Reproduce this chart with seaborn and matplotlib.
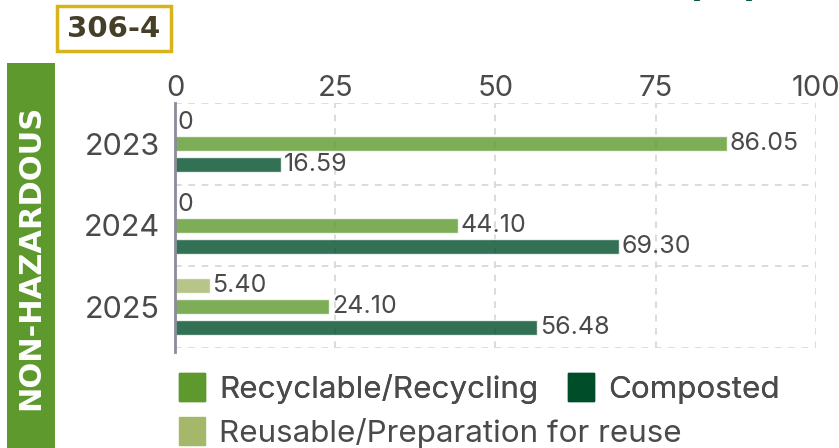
import matplotlib
matplotlib.use("Agg")
import matplotlib.pyplot as plt
from matplotlib.patches import Patch, Rectangle
import pandas as pd
import seaborn as sns

# ---- data -------------------------------------------------------------
years = ["2023", "2024", "2025"]
categories = ["Reusable/Preparation for reuse", "Recyclable/Recycling", "Composted"]
reuse = [0, 0, 5.40]
recycling = [86.05, 44.10, 24.10]
composted = [16.59, 69.30, 56.48]
x_ticks = [0, 25, 50, 75, 100]

colors = {
    "Reusable/Preparation for reuse": "#a5b86a",
    "Recyclable/Recycling": "#5e992d",
    "Composted": "#004d2a",
}

df = pd.DataFrame({
    "year": years * 3,
    "category": [c for c in categories for _ in years],
    "value": reuse + recycling + composted,
})

# ---- style ------------------------------------------------------------
sns.set_style("white")
plt.rcParams["font.family"] = ["Inter", "DejaVu Sans"]
TEXT = "#4a4a4a"

W, H = 839, 448
fig = plt.figure(figsize=(W / 100, H / 100), dpi=100)


def fx(px):
    return px / W


def fy(py):
    return 1 - py / H


ax = fig.add_axes([fx(175), fy(347.5), fx(816) - fx(175), fy(103) - fy(347.5)])

sns.barplot(
    data=df, y="year", x="value", hue="category",
    order=years, hue_order=categories, palette=colors,
    orient="h", width=0.78, gap=0.29, saturation=1, alpha=0.8,
    errorbar=None, legend=False, ax=ax,
)

for cont in ax.containers:
    labels = [f"{v:.2f}" if v else "0" for v in cont.datavalues]
    ax.bar_label(cont, labels=labels, padding=2, fontsize=18, color=TEXT)

ax.set_xlim(0, 100)
ax.set_ylim(2.5, -0.5)
ax.set_xlabel("")
ax.set_ylabel("")

ax.xaxis.tick_top()
ax.set_xticks(x_ticks)
ax.tick_params(axis="x", length=0, pad=0.5, labelsize=21, labelcolor=TEXT)
ax.tick_params(axis="y", which="major", length=0, pad=11, labelsize=22, labelcolor=TEXT)
ax.set_yticks([-0.5, 0.5, 1.5, 2.5], minor=True)
ax.tick_params(axis="y", which="minor", length=0)

grid_kw = dict(color="#d6d6d6", linestyle=(0, (4, 4)), linewidth=1.2)
ax.grid(axis="x", which="major", **grid_kw)
ax.grid(axis="y", which="minor", **grid_kw)
ax.grid(axis="y", which="major", visible=False)
ax.set_axisbelow(True)

for side in ("top", "right", "bottom"):
    ax.spines[side].set_visible(False)
ax.spines["left"].set_color("#8c8c99")
ax.spines["left"].set_linewidth(2)
ax.spines["left"].set_bounds(-0.5, 2.55)

# ---- legend -----------------------------------------------------------
leg_kw = dict(
    frameon=False, fontsize=22.6, labelcolor=TEXT, loc="center left",
    borderpad=0, borderaxespad=0, handlelength=0.84, handleheight=0.98,
    handletextpad=0.44, columnspacing=0.95,
)
leg1 = fig.legend(
    handles=[Patch(color=colors["Recyclable/Recycling"], label="Recyclable/Recycling"),
             Patch(color=colors["Composted"], label="Composted")],
    ncol=2, bbox_to_anchor=(fx(179), fy(388.5)), **leg_kw,
)
leg2 = fig.legend(
    handles=[Patch(color=colors["Reusable/Preparation for reuse"],
                   label="Reusable/Preparation for reuse")],
    bbox_to_anchor=(fx(179), fy(432.5)), **leg_kw,
)
fig.add_artist(leg1)

# ---- side band and section tag ---------------------------------------
fig.add_artist(Rectangle((fx(7), 0), fx(55) - fx(7), fy(63), transform=fig.transFigure,
                         facecolor="#5e992d", edgecolor="none"))
fig.text(fx(31), fy(257.5), "NON-HAZARDOUS", rotation=90, ha="center", va="center",
         color="white", fontsize=22, fontweight="bold", family="DejaVu Sans")

fig.add_artist(Rectangle((fx(56.5), fy(51)), fx(171) - fx(56.5), fy(6) - fy(51),
                         transform=fig.transFigure, facecolor="white",
                         edgecolor="#d8b41c", linewidth=2.5))
fig.text(fx(113.5), fy(29), "306-4", ha="center", va="center", color="#463f28",
         fontsize=21, fontweight="bold", family="DejaVu Sans")

# heading sits above the canvas; only the descending brackets reach into view
fig.text(fx(722.5), fy(-5), "(%)", ha="center", va="baseline", color="#0b5c36",
         fontsize=29, fontweight="bold", family="DejaVu Sans")

fig.savefig("out.png", dpi=100, facecolor="white")
